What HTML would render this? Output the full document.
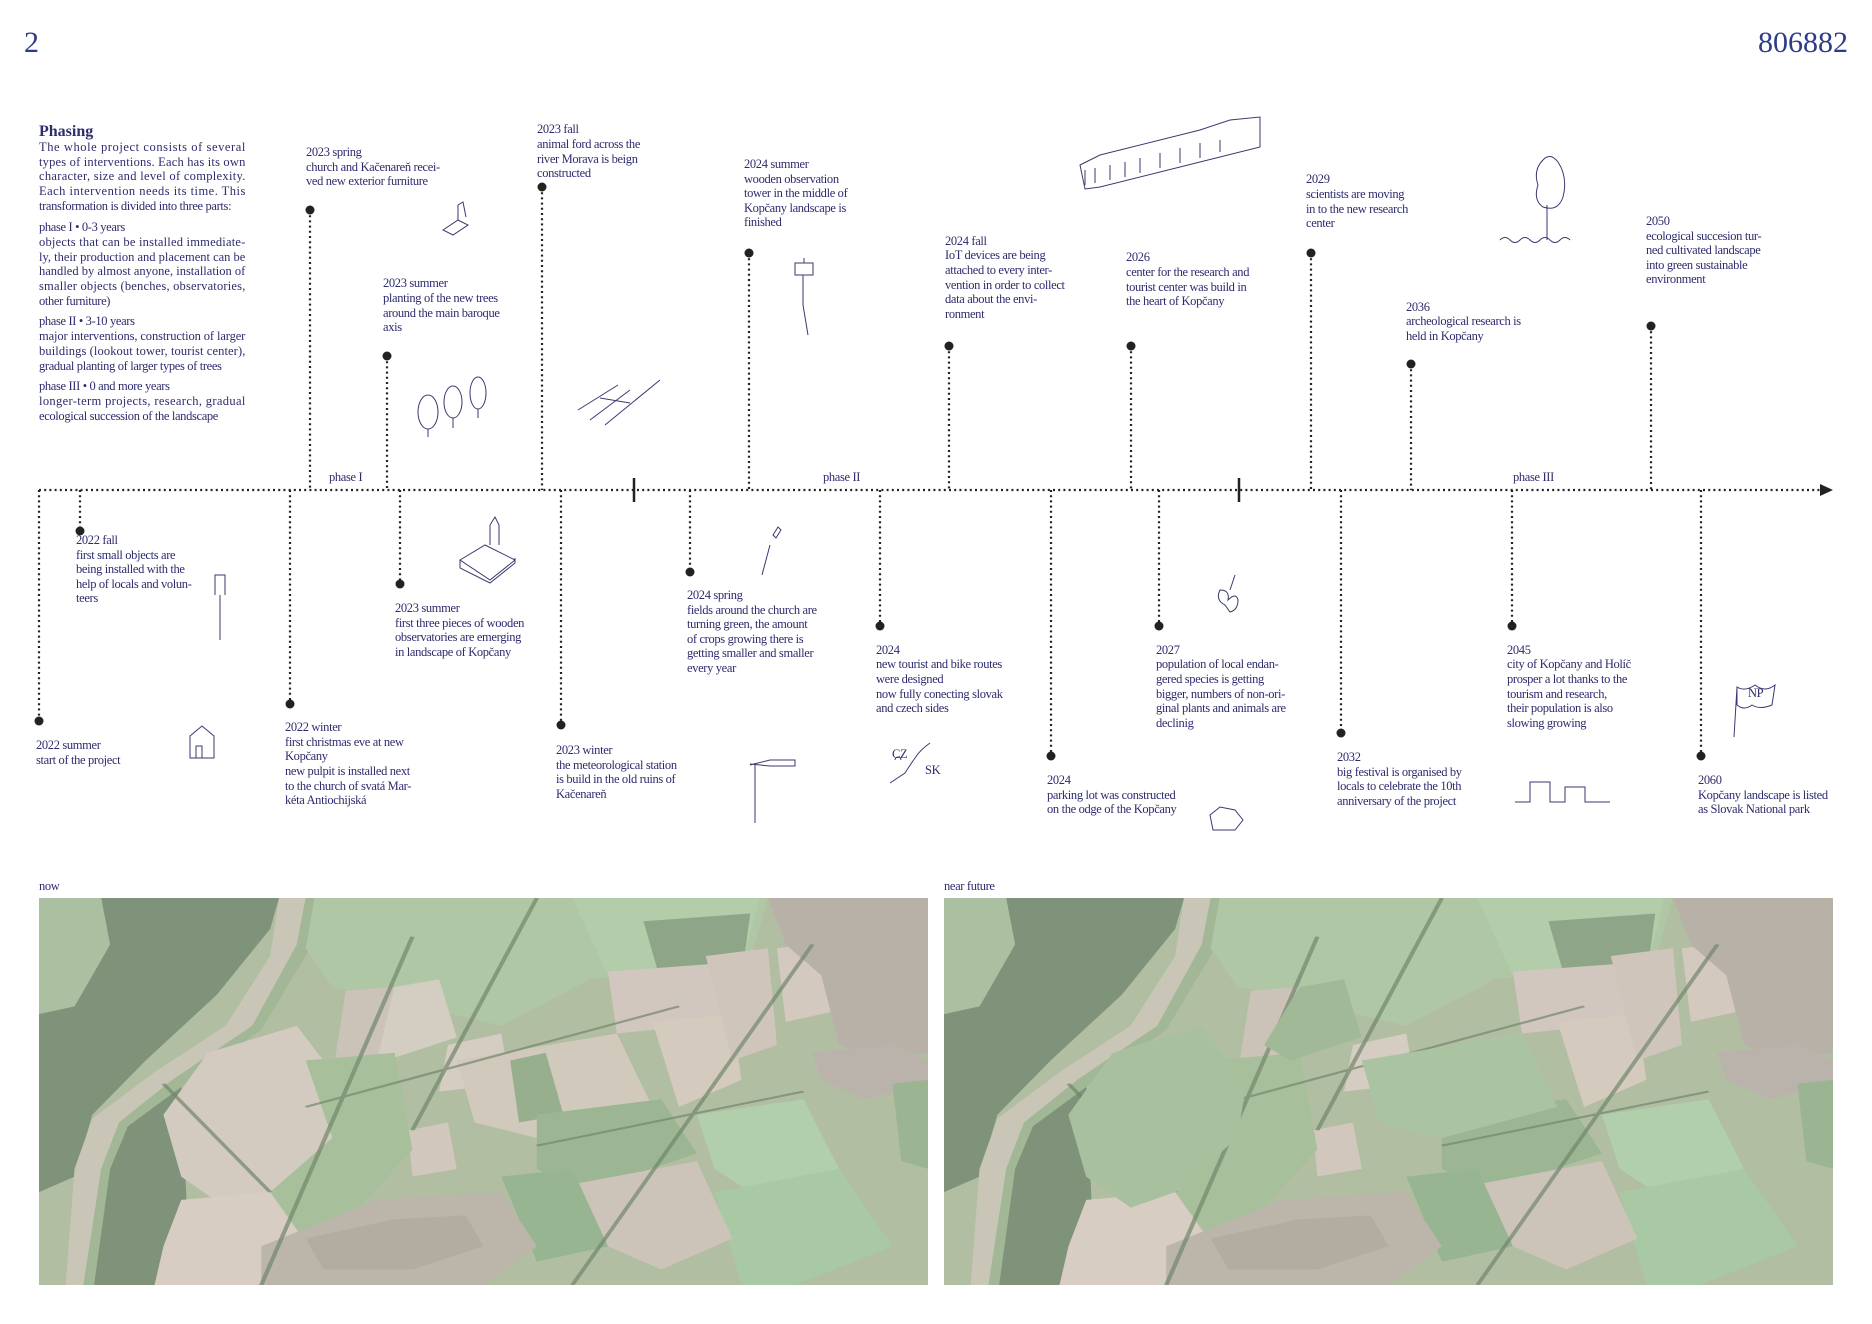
<!DOCTYPE html>
<html><head><meta charset="utf-8">
<style>
html,body{margin:0;padding:0;background:#fff;}
svg{display:block;}
text{font-family:"Liberation Serif","Noto Serif CJK SC",serif;fill:#2e2c6e;font-size:12.5px;letter-spacing:-0.35px;}
.big{font-size:30px;letter-spacing:0;fill:#2e3a8a;}
.h{font-size:16px;font-weight:bold;letter-spacing:0;}
.ln{stroke:#222;stroke-width:2.2;stroke-dasharray:2 3.2;fill:none;}
.sk{stroke:#3a3a70;stroke-width:1;fill:none;}
</style></head><body>
<svg width="1872" height="1324" viewBox="0 0 1872 1324" xmlns="http://www.w3.org/2000/svg">
<defs>
<g id="map">
 <rect x="0" y="0" width="1000" height="1000" fill="#a7b596"/>
 <!-- forest left -->
 <polygon points="0,0 270,0 260,80 200,250 120,420 60,560 40,720 0,760" fill="#6d8468"/>
 <polygon points="0,0 70,0 80,120 40,280 0,300" fill="#9fb894"/>
 <polygon points="80,640 110,560 160,470 170,1000 60,1000 70,800" fill="#6d8468"/>
 <!-- river -->
 <polygon points="270,0 300,0 290,120 240,330 150,470 90,580 70,700 50,1000 30,1000 40,700 60,570 130,450 210,330 260,150" fill="#c2bfae"/>
 <polygon points="300,0 315,0 305,130 250,340 165,480 100,590 80,700 62,1000 50,1000 70,700 90,580 150,470 240,330 290,120" fill="#94ad88"/>
 <!-- meadow top -->
 <polygon points="310,0 820,0 800,160 620,210 520,330 390,260 330,230 300,130" fill="#a5c09a"/>
 <polygon points="600,0 810,0 795,140 640,200" fill="#a9c59e"/>
 <polygon points="680,60 800,40 790,210 700,220" fill="#7f9a77"/>
 <!-- big beige fields -->
 <polygon points="190,400 290,330 340,480 330,620 260,760 210,800 160,720 140,560" fill="#cfc4b8"/>
 <polygon points="160,780 260,760 300,890 250,1000 130,1000 140,900" fill="#d2c7bb"/>
 <polygon points="400,230 450,210 470,360 390,420 360,380" fill="#cfc6b9"/>
 <polygon points="460,380 520,350 530,480 450,500" fill="#d0c6ba"/>
 <polygon points="470,420 650,350 690,540 560,620 490,580" fill="#ccc2b4"/>
 <polygon points="640,190 760,170 780,320 650,350" fill="#cbc0b5"/>
 <polygon points="690,320 780,300 790,470 720,540" fill="#cec4b6"/>
 <polygon points="750,150 820,130 830,380 780,420" fill="#c9beb2"/>
 <polygon points="830,130 900,110 920,280 840,320" fill="#cdc2b5"/>
 <polygon points="530,420 570,400 590,560 540,580" fill="#8aa47f"/>
 <polygon points="345,240 400,230 380,420 330,460" fill="#c4bbad"/>
 <polygon points="415,600 460,580 470,700 420,720" fill="#cbc0b3"/>
 <!-- green fields mid/bottom -->
 <polygon points="300,420 400,400 420,650 360,800 300,880 260,760 330,620" fill="#9bb88e"/>
 <polygon points="560,560 700,520 740,660 610,760 560,700" fill="#8fac84"/>
 <polygon points="740,560 860,520 900,700 800,760 760,700" fill="#a8c9a1"/>
 <polygon points="760,760 900,700 960,900 850,1000 790,1000" fill="#9dc297"/>
 <polygon points="600,740 740,680 780,880 700,960 640,900" fill="#c7bcb0"/>
 <polygon points="520,720 600,700 640,900 560,940" fill="#8aab82"/>
 <!-- village bottom -->
 <polygon points="250,900 380,780 520,760 560,900 500,1000 250,1000" fill="#b2ab9f"/>
 <polygon points="300,880 400,830 480,820 500,900 420,960 320,960" fill="#a9a295"/>
 <!-- town right -->
 <polygon points="820,0 1000,0 1000,400 940,420 900,380 880,200 840,120" fill="#ada79d"/>
 <polygon points="870,400 960,380 1000,420 1000,480 930,520 880,470" fill="#b0a9a0"/>
 <polygon points="960,480 1000,470 1000,700 970,680" fill="#8eaa83"/>
 <!-- lines -->
 <path d="M420,100 L250,1000 M560,0 L420,600 M870,120 L600,1000 M140,480 L260,760 M300,540 L720,280 M560,640 L860,500" stroke="#5e7659" stroke-width="5" fill="none" opacity="0.7"/>
</g>
</defs>

<text class="big" x="24" y="52">2</text>
<text class="big" x="1848" y="52" text-anchor="end">806882</text>

<text class="h" x="39" y="136">Phasing</text>
<g>
<text x="39" y="151" textLength="206" lengthAdjust="spacing">The whole project consists of several</text>
<text x="39" y="166" textLength="206" lengthAdjust="spacing">types of interventions. Each has its own</text>
<text x="39" y="180" textLength="206" lengthAdjust="spacing">character, size and level of complexity.</text>
<text x="39" y="195" textLength="206" lengthAdjust="spacing">Each intervention needs its time. This</text>
<text x="39" y="210">transformation is divided into three parts:</text>
<text x="39" y="231">phase I • 0-3 years</text>
<text x="39" y="246" textLength="206" lengthAdjust="spacing">objects that can be installed immediate-</text>
<text x="39" y="261" textLength="206" lengthAdjust="spacing">ly, their production and placement can be</text>
<text x="39" y="275" textLength="206" lengthAdjust="spacing">handled by almost anyone, installation of</text>
<text x="39" y="290" textLength="206" lengthAdjust="spacing">smaller objects (benches, observatories,</text>
<text x="39" y="305">other furniture)</text>
<text x="39" y="325">phase II • 3-10 years</text>
<text x="39" y="340" textLength="206" lengthAdjust="spacing">major interventions, construction of larger</text>
<text x="39" y="355" textLength="206" lengthAdjust="spacing">buildings (lookout tower, tourist center),</text>
<text x="39" y="370">gradual planting of larger types of trees</text>
<text x="39" y="390">phase III • 0 and more years</text>
<text x="39" y="405" textLength="206" lengthAdjust="spacing">longer-term projects, research, gradual</text>
<text x="39" y="420">ecological succession of the landscape</text>
</g>

<!-- axis -->
<line x1="39" y1="490" x2="1822" y2="490" class="ln"/>
<polygon points="1820,484 1833,490 1820,496" fill="#222"/>
<line x1="634" y1="478" x2="634" y2="502" stroke="#222" stroke-width="2.5"/>
<line x1="1239" y1="478" x2="1239" y2="502" stroke="#222" stroke-width="2.5"/>
<text x="329" y="481" font-size="13">phase I</text>
<text x="823" y="481" font-size="13">phase II</text>
<text x="1513" y="481" font-size="13">phase III</text>

<!-- upward stems -->
<g class="ln">
<line x1="310" y1="210" x2="310" y2="490"/>
<line x1="387" y1="356" x2="387" y2="490"/>
<line x1="542" y1="187" x2="542" y2="490"/>
<line x1="749" y1="253" x2="749" y2="490"/>
<line x1="949" y1="346" x2="949" y2="490"/>
<line x1="1131" y1="346" x2="1131" y2="490"/>
<line x1="1311" y1="253" x2="1311" y2="490"/>
<line x1="1411" y1="364" x2="1411" y2="490"/>
<line x1="1651" y1="326" x2="1651" y2="490"/>
<!-- downward -->
<line x1="39" y1="490" x2="39" y2="721"/>
<line x1="80" y1="490" x2="80" y2="531"/>
<line x1="290" y1="490" x2="290" y2="704"/>
<line x1="400" y1="490" x2="400" y2="584"/>
<line x1="561" y1="490" x2="561" y2="725"/>
<line x1="690" y1="490" x2="690" y2="572"/>
<line x1="880" y1="490" x2="880" y2="626"/>
<line x1="1051" y1="490" x2="1051" y2="756"/>
<line x1="1159" y1="490" x2="1159" y2="626"/>
<line x1="1341" y1="490" x2="1341" y2="733"/>
<line x1="1512" y1="490" x2="1512" y2="626"/>
<line x1="1701" y1="490" x2="1701" y2="756"/>
</g>
<g fill="#222">
<circle cx="310" cy="210" r="4.5"/><circle cx="387" cy="356" r="4.5"/><circle cx="542" cy="187" r="4.5"/>
<circle cx="749" cy="253" r="4.5"/><circle cx="949" cy="346" r="4.5"/><circle cx="1131" cy="346" r="4.5"/>
<circle cx="1311" cy="253" r="4.5"/><circle cx="1411" cy="364" r="4.5"/><circle cx="1651" cy="326" r="4.5"/>
<circle cx="39" cy="721" r="4.5"/><circle cx="80" cy="531" r="4.5"/><circle cx="290" cy="704" r="4.5"/>
<circle cx="400" cy="584" r="4.5"/><circle cx="561" cy="725" r="4.5"/><circle cx="690" cy="572" r="4.5"/>
<circle cx="880" cy="626" r="4.5"/><circle cx="1051" cy="756" r="4.5"/><circle cx="1159" cy="626" r="4.5"/>
<circle cx="1341" cy="733" r="4.5"/><circle cx="1512" cy="626" r="4.5"/><circle cx="1701" cy="756" r="4.5"/>
</g>

<!-- upper labels -->
<text x="306" y="156">2023 spring</text><text x="306" y="171">church and Kačenareň recei-</text><text x="306" y="185">ved new exterior furniture</text>
<text x="383" y="287">2023 summer</text><text x="383" y="302">planting of the new trees</text><text x="383" y="317">around the main baroque</text><text x="383" y="331">axis</text>
<text x="537" y="133">2023 fall</text><text x="537" y="148">animal ford across the</text><text x="537" y="163">river Morava is beign</text><text x="537" y="177">constructed</text>
<text x="744" y="168">2024 summer</text><text x="744" y="183">wooden observation</text><text x="744" y="197">tower in the middle of</text><text x="744" y="212">Kopčany landscape is</text><text x="744" y="226">finished</text>
<text x="945" y="245">2024 fall</text><text x="945" y="259">IoT devices are being</text><text x="945" y="274">attached to every inter-</text><text x="945" y="289">vention in order to collect</text><text x="945" y="303">data about the envi-</text><text x="945" y="318">ronment</text>
<text x="1126" y="261">2026</text><text x="1126" y="276">center for the research and</text><text x="1126" y="291">tourist center was build in</text><text x="1126" y="305">the heart of Kopčany</text>
<text x="1306" y="183">2029</text><text x="1306" y="198">scientists are moving</text><text x="1306" y="213">in to the new research</text><text x="1306" y="227">center</text>
<text x="1406" y="311">2036</text><text x="1406" y="325">archeological research is</text><text x="1406" y="340">held in Kopčany</text>
<text x="1646" y="225">2050</text><text x="1646" y="240">ecological succesion tur-</text><text x="1646" y="254">ned cultivated landscape</text><text x="1646" y="269">into green sustainable</text><text x="1646" y="283">environment</text>

<!-- lower labels -->
<text x="76" y="544">2022 fall</text><text x="76" y="559">first small objects are</text><text x="76" y="573">being installed with the</text><text x="76" y="588">help of locals and volun-</text><text x="76" y="602">teers</text>
<text x="36" y="749">2022 summer</text><text x="36" y="764">start of the project</text>
<text x="285" y="731">2022 winter</text><text x="285" y="746">first christmas eve at new</text><text x="285" y="760">Kopčany</text><text x="285" y="775">new pulpit is installed next</text><text x="285" y="790">to the church of svatá Mar-</text><text x="285" y="804">kéta Antiochijská</text>
<text x="395" y="612">2023 summer</text><text x="395" y="627">first three pieces of  wooden</text><text x="395" y="641">observatories are emerging</text><text x="395" y="656">in landscape of Kopčany</text>
<text x="556" y="754">2023 winter</text><text x="556" y="769">the meteorological station</text><text x="556" y="783">is build in the old ruins of</text><text x="556" y="798">Kačenareň</text>
<text x="687" y="599">2024 spring</text><text x="687" y="614">fields around the church are</text><text x="687" y="628">turning green, the amount</text><text x="687" y="643">of crops growing there is</text><text x="687" y="657">getting smaller and smaller</text><text x="687" y="672">every year</text>
<text x="876" y="654">2024</text><text x="876" y="668">new tourist and bike routes</text><text x="876" y="683">were designed</text><text x="876" y="698">now fully conecting slovak</text><text x="876" y="712">and czech sides</text>
<text x="1047" y="784">2024</text><text x="1047" y="799">parking lot was constructed</text><text x="1047" y="813">on the odge of the Kopčany</text>
<text x="1156" y="654">2027</text><text x="1156" y="668">population of local endan-</text><text x="1156" y="683">gered species is getting</text><text x="1156" y="698">bigger, numbers of non-ori-</text><text x="1156" y="712">ginal plants and animals are</text><text x="1156" y="727">declinig</text>
<text x="1337" y="761">2032</text><text x="1337" y="776">big festival is organised by</text><text x="1337" y="790">locals to celebrate the 10th</text><text x="1337" y="805">anniversary of the project</text>
<text x="1507" y="654">2045</text><text x="1507" y="668">city of Kopčany and Holíč</text><text x="1507" y="683">prosper a lot thanks to the</text><text x="1507" y="698">tourism and research,</text><text x="1507" y="712">their population is also</text><text x="1507" y="727">slowing growing</text>
<text x="1698" y="784">2060</text><text x="1698" y="799">Kopčany landscape is listed</text><text x="1698" y="813">as Slovak National park</text>

<!-- sketches -->
<g class="sk">
<path d="M443,230 l15,-10 l10,5 l-15,10 z M458,220 l0,-15 l5,-3 l3,15"/>
<ellipse cx="428" cy="412" rx="10" ry="17"/><line x1="428" y1="429" x2="428" y2="437"/>
<ellipse cx="453" cy="402" rx="9" ry="16"/><line x1="453" y1="418" x2="453" y2="428"/>
<ellipse cx="478" cy="393" rx="8" ry="16"/><line x1="478" y1="409" x2="478" y2="418"/>
<path d="M578,410 l40,-25 M590,420 l40,-30 M605,425 l55,-45 M600,398 l30,5"/>
<rect x="795" y="263" width="18" height="12"/><path d="M803,275 l0,30 l5,30 M804,258 l0,5"/>
<path d="M1080,165 l20,-10 l100,-25 l30,-10 l30,-3 l0,30 l-60,15 l-100,25 l-15,2 z M1085,170 l0,15 M1095,168 l0,15 M1110,165 l0,15 M1125,162 l0,15 M1140,158 l0,15 M1160,153 l0,15 M1180,148 l0,15 M1200,143 l0,15 M1220,140 l0,12"/>
<path d="M1543,160 q-10,10 -5,25 q-5,15 5,22 q15,5 20,-10 q5,-20 -5,-35 q-8,-10 -15,-2 z M1547,205 l0,35 M1500,240 q5,-5 10,0 q5,5 10,0 q5,-5 10,0 q5,5 10,0 q5,-5 10,0 q5,5 10,0 q5,-5 10,0"/>
<path d="M215,595 l0,-20 l10,0 l0,20 M220,595 l0,45"/>
<path d="M190,758 l0,-22 l12,-10 l12,10 l0,22 z M196,758 l0,-12 l6,0 l0,12"/>
<path d="M460,560 l25,-15 l30,15 l-25,20 z M460,560 l0,8 l30,15 l25,-20 l0,-5 M490,545 l0,-20 l5,-8 l4,8 l0,20"/>
<path d="M773,535 l5,-8 l3,3 l-5,8 z M770,545 l-8,30"/>
<path d="M750,765 l20,-5 l25,0 l0,6 l-25,0 l-20,-2 M755,763 l0,60"/>
<path d="M890,783 l15,-10 q5,-8 10,-15 q5,-8 15,-15 M898,760 m-3,0 a3,3 0 1,1 6,0"/>
<path d="M1210,815 l10,-8 l15,3 l8,10 l-8,10 l-22,0 z"/>
<path d="M1225,605 q-10,-5 -5,-15 q10,0 8,10 q8,-8 10,0 q0,10 -8,12 z M1230,590 l5,-15"/>
<path d="M1515,802 l15,0 l0,-20 l20,0 l0,20 l15,0 l0,-15 l20,0 l0,15 l25,0"/>
<path d="M1737,687 q8,5 18,-2 q10,8 20,0 l-3,20 q-12,5 -20,0 q-8,6 -15,0 z M1737,687 l-3,50"/>
</g>
<text x="1748" y="697" font-size="10">NP</text>
<text x="892" y="758" font-size="8">CZ</text><text x="925" y="774" font-size="7">SK</text>

<!-- maps -->
<text x="39" y="890" font-size="10">now</text>
<text x="944" y="890" font-size="10">near future</text>
<svg x="39" y="898" width="889" height="387" viewBox="0 0 1000 1000" preserveAspectRatio="none"><use href="#map"/><rect width="1000" height="1000" fill="#fff" opacity="0.12"/></svg>
<svg x="944" y="898" width="889" height="387" viewBox="0 0 1000 1000" preserveAspectRatio="none"><use href="#map"/>
 <polygon points="190,400 290,330 340,480 330,620 260,760 210,800 160,720 140,560" fill="#9cb891"/>
 <polygon points="470,420 650,350 690,540 560,620 490,580" fill="#9fbb93"/>
 <polygon points="400,230 450,210 470,360 390,420 360,380" fill="#94b089"/>
 <rect width="1000" height="1000" fill="#fff" opacity="0.12"/></svg>
</svg>
</body></html>
